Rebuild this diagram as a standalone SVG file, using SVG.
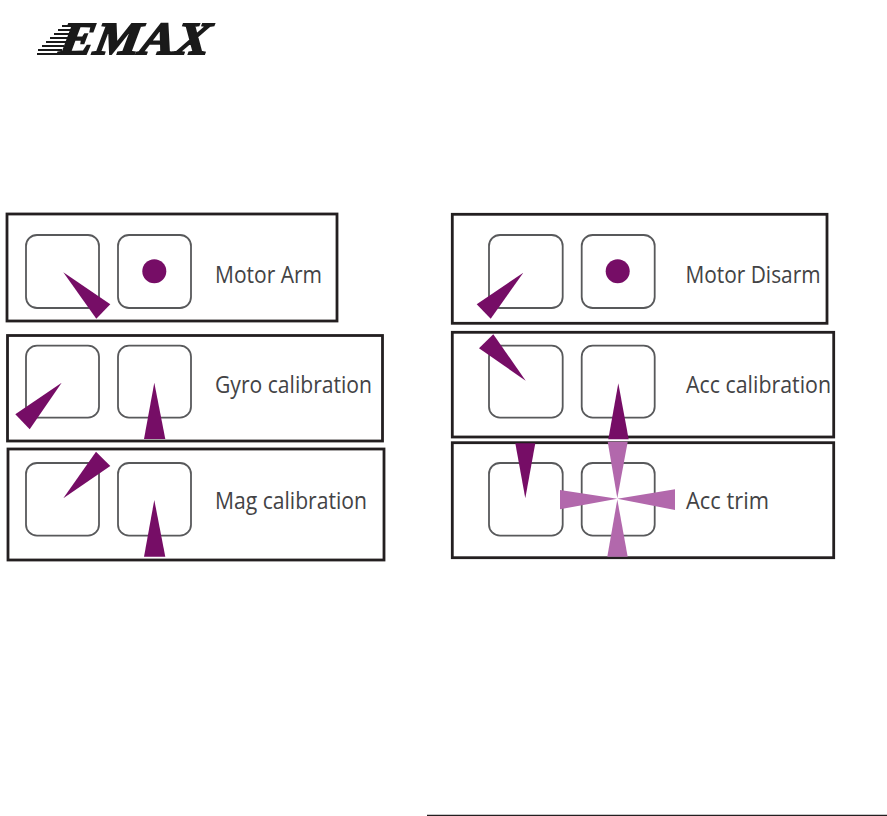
<svg xmlns="http://www.w3.org/2000/svg" width="887" height="816" viewBox="0 0 887 816">
<style>
.panel{fill:none;stroke:#231f20;stroke-width:2.800}
.key{fill:#fff;stroke:#58595b;stroke-width:1.800}
.dark{fill:#760d66}
.light{fill:#b268ac}
.label{font-family:"Open Sans","Noto Sans",sans-serif;font-size:24px;fill:#434345}
.logo{font-family:"Liberation Serif",serif;font-weight:bold;font-style:italic;font-size:46px;fill:#1a1a1a;stroke:#1a1a1a;stroke-width:1.800}
</style>
<rect width="887" height="816" fill="#fff"/>
<g id="logo">
<text class="logo" transform="translate(58 54) skewX(-10)" x="0" y="0" textLength="150" lengthAdjust="spacingAndGlyphs">EMAX</text>
<path d="M50 26.500H64M48 30.500H62M46 34.500H60M44 38.500H58M42 42.500H56M40 46.500H54M38 50.500H52" stroke="#fff" stroke-width="1.300" fill="none"/>
<path d="M62 26H76M58 30H72M54 34H70M50 38H68M46 42H66M42 46H64M38 50H62M37 54H60" stroke="#1a1a1a" stroke-width="1.800" fill="none"/>
</g>
<g id="motor-arm">
<rect class="panel" x="7" y="214" width="330" height="107"/>
<rect class="key" x="26" y="235" width="73" height="73" rx="11"/>
<rect class="key" x="118" y="235" width="73" height="73" rx="11"/>
<polygon class="dark" points="63.300,272.300 110.300,304.300 96.300,318.700"/>
<circle class="dark" cx="154.300" cy="271.300" r="12"/>
<text class="label" x="215" y="283" textLength="107" lengthAdjust="spacingAndGlyphs">Motor Arm</text>
</g>
<g id="gyro-calibration">
<rect class="panel" x="7.500" y="335.500" width="375" height="105.500"/>
<rect class="key" x="26" y="345.700" width="73" height="72" rx="11"/>
<rect class="key" x="118" y="345.700" width="73" height="72" rx="11"/>
<polygon class="dark" points="61.700,382.700 15.300,414.300 29.700,429.300"/>
<polygon class="dark" points="154.300,382.700 144,439 165.300,439"/>
<text class="label" x="215" y="393" textLength="157" lengthAdjust="spacingAndGlyphs">Gyro calibration</text>
</g>
<g id="mag-calibration">
<rect class="panel" x="8" y="449" width="376" height="111"/>
<rect class="key" x="26" y="463" width="73" height="72.700" rx="11"/>
<rect class="key" x="118" y="463" width="73" height="72.700" rx="11"/>
<polygon class="dark" points="63.300,498.300 110.300,466 96,451.700"/>
<polygon class="dark" points="154.300,500 144,556.700 165.300,556.700"/>
<text class="label" x="215" y="509" textLength="152" lengthAdjust="spacingAndGlyphs">Mag calibration</text>
</g>
<g id="motor-disarm">
<rect class="panel" x="452.300" y="214.300" width="374.700" height="109"/>
<rect class="key" x="489" y="235" width="73.700" height="73" rx="11"/>
<rect class="key" x="581.700" y="235" width="73" height="73" rx="11"/>
<polygon class="dark" points="523.300,272.700 476.700,304.300 490.700,318.700"/>
<circle class="dark" cx="617.700" cy="271.300" r="12"/>
<text class="label" x="685.500" y="283" textLength="135" lengthAdjust="spacingAndGlyphs">Motor Disarm</text>
</g>
<g id="acc-calibration">
<rect class="panel" x="452.300" y="332.300" width="381.400" height="104.700"/>
<rect class="key" x="489" y="345.700" width="73.700" height="72" rx="11"/>
<rect class="key" x="581.700" y="345.700" width="73" height="72" rx="11"/>
<polygon class="dark" points="525.700,380.700 479,348.300 493.300,334.300"/>
<text class="label" x="686" y="393" textLength="145" lengthAdjust="spacingAndGlyphs">Acc calibration</text>
</g>
<g id="acc-trim">
<rect class="panel" x="452.300" y="442.700" width="381.400" height="115"/>
<rect class="key" x="489" y="463" width="73.700" height="72.700" rx="11"/>
<rect class="key" x="581.700" y="463" width="73" height="72.700" rx="11"/>
<polygon class="light" points="617.300,498.300 607.700,441.700 627.700,441.700"/>
<polygon class="light" points="617.300,498.700 560,490 560,509.300"/>
<polygon class="light" points="617.300,498.700 675,489.300 675,510"/>
<polygon class="light" points="617.300,499.500 607.300,556.700 627.700,556.700"/>
<polygon class="dark" points="618.300,383.300 608.300,439.300 628.700,439.300"/>
<polygon class="dark" points="515.300,443.300 535.300,443.300 525.300,498.300"/>
<text class="label" x="686" y="509" textLength="83" lengthAdjust="spacingAndGlyphs">Acc trim</text>
</g>
<path id="footer-rule" d="M427 815.500H887" stroke="#231f20" stroke-width="1.500"/>
</svg>
